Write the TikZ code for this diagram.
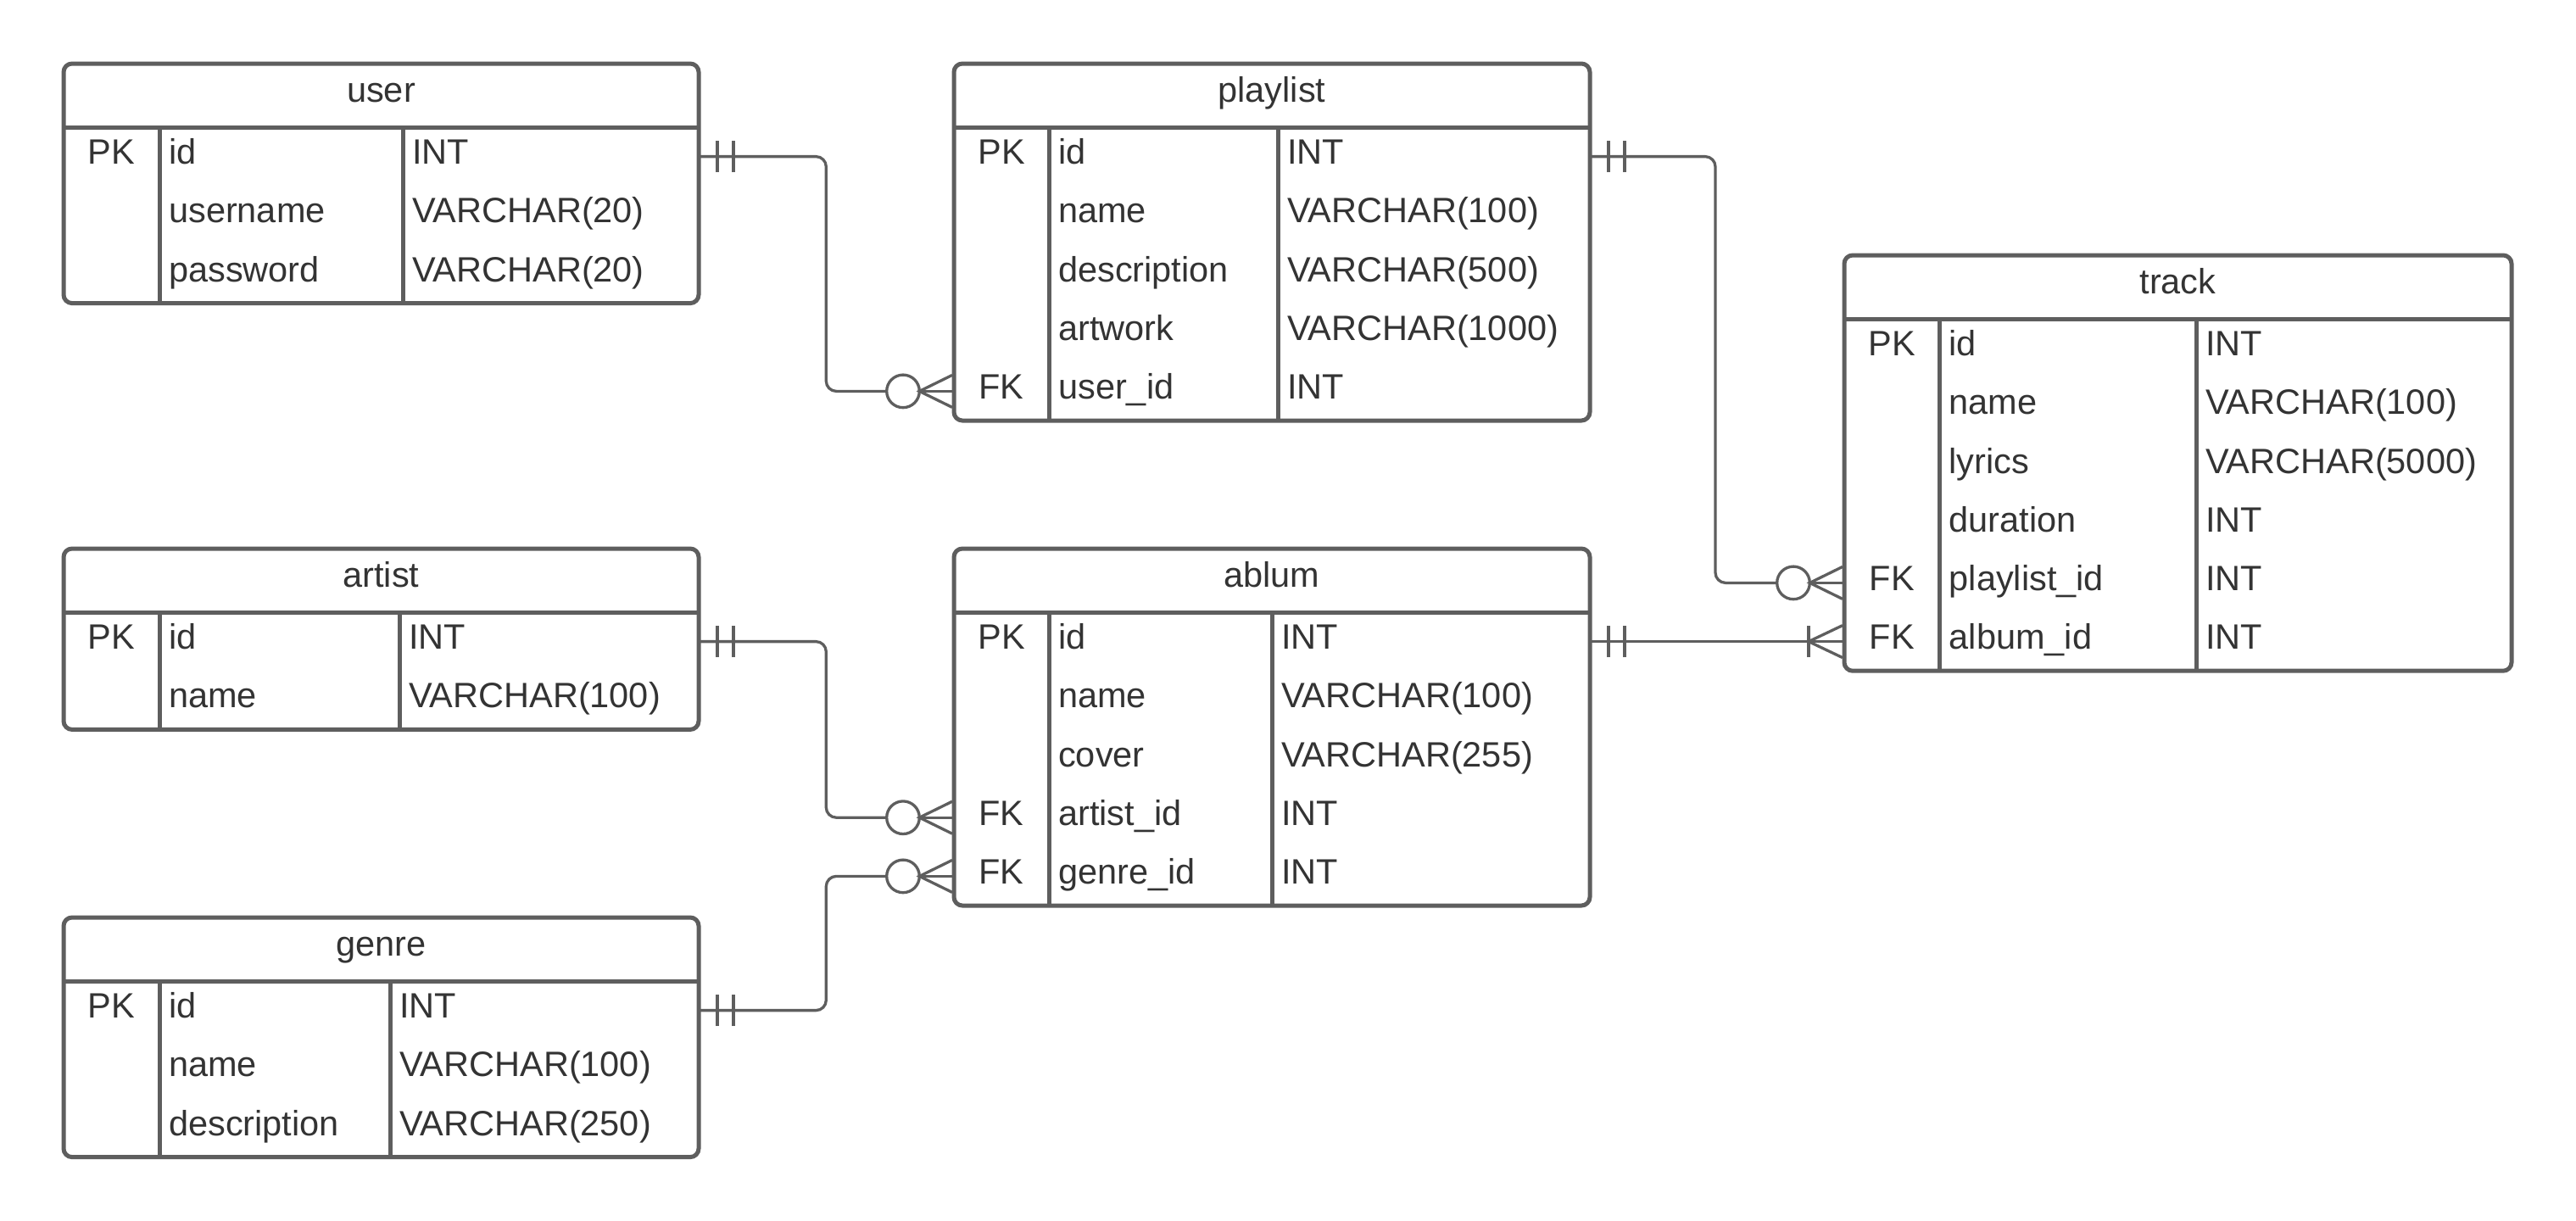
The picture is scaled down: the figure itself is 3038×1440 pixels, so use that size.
\documentclass[tikz,border=0pt]{standalone}
\usepackage{fontspec}
\setmainfont{Liberation Sans}
\usetikzlibrary{calc}

\definecolor{erline}{HTML}{5E5E5E}
\definecolor{ertext}{HTML}{333333}

\tikzset{
  erbox/.style={draw=erline, line width=5pt, rounded corners=10pt, fill=white,
                inner sep=0pt, outer sep=0pt, anchor=north west},
  erdiv/.style={draw=erline, line width=5pt},
  txt/.style={text=ertext, inner sep=0pt, font=\fontsize{41.5}{50}\selectfont},
  rel/.style={draw=erline, line width=3.3pt},
  route/.style={rel, rounded corners=12pt},
}

% \ertable{name}{left}{top}{right}{key|field divider}{field|type divider}{title}{rows}{row count}
\newcommand\ertable[9]{%
  \pgfmathsetmacro\erbot{#3+75+#9*69.2}%
  \pgfmathsetmacro\erw{#4-#2}%
  \pgfmathsetmacro\erh{\erbot-#3}%
  \node[erbox, minimum width=\erw pt, minimum height=\erh pt] (#1) at (#2,#3) {};
  \draw[erdiv] (#2,{#3+75}) -- (#4,{#3+75});
  \draw[erdiv] (#5,{#3+75}) -- (#5,\erbot);
  \draw[erdiv] (#6,{#3+75}) -- (#6,\erbot);
  \node[txt, anchor=base] (#1-title) at ({(#2+#4)/2},{#3+45.5}) {#7};
  \foreach \k/\f/\t [count=\i] in {#8} {
    \pgfmathsetmacro\yc{#3+75+(\i-0.5)*69.2}
    \pgfmathsetmacro\yb{\yc+9}
    \node[txt, anchor=base] (#1-\i-k) at ({(#2+#5)/2},\yb) {\k};
    \node[txt, anchor=base west] (#1-\i-f) at ({#5+11},\yb) {\f};
    \node[txt, anchor=base west] (#1-\i-t) at ({#6+11},\yb) {\t};
    \coordinate (#1-\i-w) at (#2,\yc);
    \coordinate (#1-\i-e) at (#4,\yc);
  }%
}

% "exactly one" end: two bars just right of a row's east point
\newcommand\onlyone[1]{%
  \draw[rel] ([xshift=22pt,yshift=-18.5pt]#1) -- ([xshift=22pt,yshift=18.5pt]#1);
  \draw[rel] ([xshift=41pt,yshift=-18.5pt]#1) -- ([xshift=41pt,yshift=18.5pt]#1);
}
% "zero or many" end: ring plus crow's foot left of a row's west point
\newcommand\zeroormany[1]{%
  \draw[rel] ([xshift=-60pt]#1) circle[radius=19.3pt];
  \draw[rel] ([xshift=-2pt,yshift=19pt]#1) -- ([xshift=-40.7pt]#1) -- ([xshift=-2pt,yshift=-19pt]#1);
  \draw[rel] ([xshift=-40.7pt]#1) -- (#1);
}
% "one or many" end: bar plus crow's foot left of a row's west point
\newcommand\oneormany[1]{%
  \draw[rel] ([xshift=-42pt,yshift=-18.5pt]#1) -- ([xshift=-42pt,yshift=18.5pt]#1);
  \draw[rel] ([xshift=-2pt,yshift=19pt]#1) -- ([xshift=-42pt]#1) -- ([xshift=-2pt,yshift=-19pt]#1);
}

\begin{document}
\begin{tikzpicture}[x=1pt, y=-1pt]
  \fill[white] (0,0) rectangle (3038,1440);
  \useasboundingbox (0,0) rectangle (3038,1440);

  % entities
  \ertable{user}{75}{75}{824}{188}{475}{user}
    {PK/id/INT, {}/username/VARCHAR(20), {}/password/VARCHAR(20)}{3}
  \ertable{playlist}{1125}{75}{1875}{1237}{1507}{playlist}
    {PK/id/INT, {}/name/VARCHAR(100), {}/description/VARCHAR(500), {}/artwork/VARCHAR(1000), FK/user\_id/INT}{5}
  \ertable{track}{2175}{301}{2962}{2287.5}{2590}{track}
    {PK/id/INT, {}/name/VARCHAR(100), {}/lyrics/VARCHAR(5000), {}/duration/INT, FK/playlist\_id/INT, FK/album\_id/INT}{6}
  \ertable{artist}{75}{647}{824}{188}{471}{artist}
    {PK/id/INT, {}/name/VARCHAR(100)}{2}
  \ertable{ablum}{1125}{647}{1875}{1237}{1500}{ablum}
    {PK/id/INT, {}/name/VARCHAR(100), {}/cover/VARCHAR(255), FK/artist\_id/INT, FK/genre\_id/INT}{5}
  \ertable{genre}{75}{1082}{824}{188}{460}{genre}
    {PK/id/INT, {}/name/VARCHAR(100), {}/description/VARCHAR(250)}{3}

  % vertical runs of the relationship lines
  \coordinate (busL) at (974.3,0);
  \coordinate (busR) at (2023,0);

  % user 1 -- 0..n playlist
  \draw[route] (user-1-e) -- (user-1-e -| busL) -- (playlist-5-w -| busL) -- ([xshift=-79.3pt]playlist-5-w);
  \onlyone{user-1-e}
  \zeroormany{playlist-5-w}

  % playlist 1 -- 0..n track
  \draw[route] (playlist-1-e) -- (playlist-1-e -| busR) -- (track-5-w -| busR) -- ([xshift=-79.3pt]track-5-w);
  \onlyone{playlist-1-e}
  \zeroormany{track-5-w}

  % ablum 1 -- 1..n track
  \draw[rel] (ablum-1-e) -- (ablum-1-e -| track-6-w);
  \onlyone{ablum-1-e}
  \oneormany{track-6-w}

  % artist 1 -- 0..n ablum
  \draw[route] (artist-1-e) -- (artist-1-e -| busL) -- (ablum-4-w -| busL) -- ([xshift=-79.3pt]ablum-4-w);
  \onlyone{artist-1-e}
  \zeroormany{ablum-4-w}

  % genre 1 -- 0..n ablum
  \draw[route] (genre-1-e) -- (genre-1-e -| busL) -- (ablum-5-w -| busL) -- ([xshift=-79.3pt]ablum-5-w);
  \onlyone{genre-1-e}
  \zeroormany{ablum-5-w}
\end{tikzpicture}
\end{document}
